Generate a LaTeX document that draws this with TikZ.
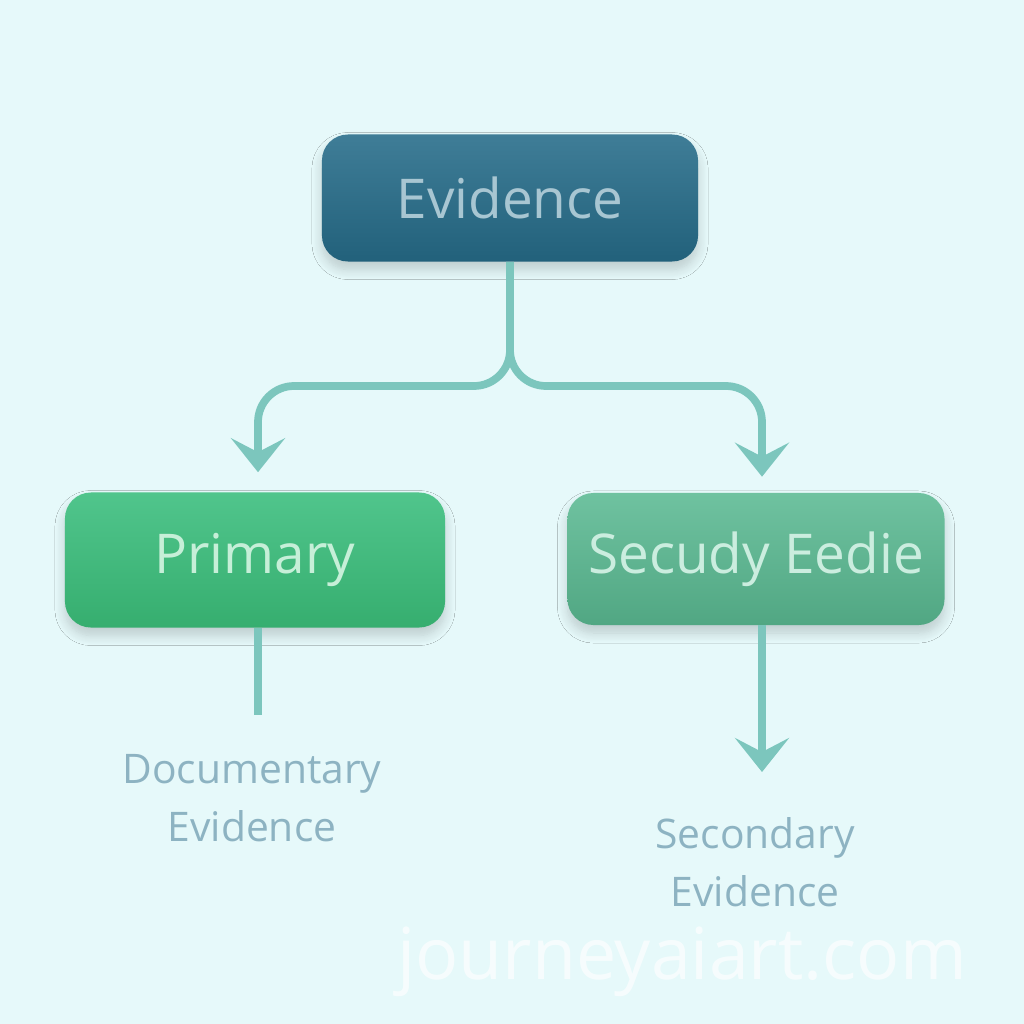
\documentclass[tikz,border=0pt]{standalone}
\usepackage{fontspec}
\setmainfont{Open Sans}
\usetikzlibrary{arrows.meta,shadows.blur}
\definecolor{bgc}{HTML}{E6F9FA}
\definecolor{linec}{HTML}{7CC6BD}
\definecolor{evtop}{HTML}{3F7D97}
\definecolor{evbot}{HTML}{22617B}
\definecolor{evtxt}{HTML}{A8C6D2}
\definecolor{prtop}{HTML}{50C58C}
\definecolor{prbot}{HTML}{36AE6F}
\definecolor{prtxt}{HTML}{C6EFD8}
\definecolor{setop}{HTML}{6FC2A0}
\definecolor{sebot}{HTML}{51A783}
\definecolor{setxt}{HTML}{CBEDDF}
\definecolor{subtxt}{HTML}{8DB3C2}
\tikzset{
  box/.style={rounded corners=0.65cm, text centered,
    blur shadow={shadow xshift=0pt, shadow yshift=-0.2cm, shadow blur radius=0.25cm, shadow blur steps=12, shadow opacity=18},
    font=\fontsize{39}{44}\selectfont},
  conn/.style={draw=linec, line width=5.5pt, rounded corners=0.9cm},
  tipped/.style={-{Stealth[length=0.85cm,width=1.35cm,inset=0.35cm]}},
  sublabel/.style={text=subtxt, align=center, font=\fontsize{29}{41}\selectfont},
}
\begin{document}
\begin{tikzpicture}[x=0.025cm,y=-0.025cm]
\fill[bgc] (0,0) rectangle (1024,1024);
\useasboundingbox (0,0) rectangle (1024,1024);
\node[box, top color=evtop, bottom color=evbot, text=evtxt, minimum width=9.4cm, minimum height=3.175cm] (ev) at (510,198) {Evidence};
\node[box, top color=prtop, bottom color=prbot, text=prtxt, minimum width=9.5cm, minimum height=3.375cm] (pr) at (255,560) {Primary};
\node[box, top color=setop, bottom color=sebot, text=setxt, minimum width=9.425cm, minimum height=3.3cm] (se) at (756,559) {Secudy Eedie};
\node[sublabel] (doc) at (252,798) {Documentary\\Evidence};
\node[sublabel] (sec) at (755,862) {Secondary\\Evidence};
\coordinate (split) at (510,386);
\coordinate (prend) at (258,715);
\draw[conn, tipped, shorten >=0.5cm] (ev.south) -- (split) -| (pr.north -| prend);
\draw[conn, tipped, shorten >=0.4cm] (ev.south) -- (split) -| (se.north -| 762,0);
\draw[conn] (pr.south -| prend) -- (prend);
\draw[conn, tipped] (se.south -| 762,0) -- (762,772);
\node[text=white, opacity=0.65, font=\fontsize{51}{56}\selectfont] (wm) at (682,962) {journeyaiart.com};
\end{tikzpicture}
\end{document}
